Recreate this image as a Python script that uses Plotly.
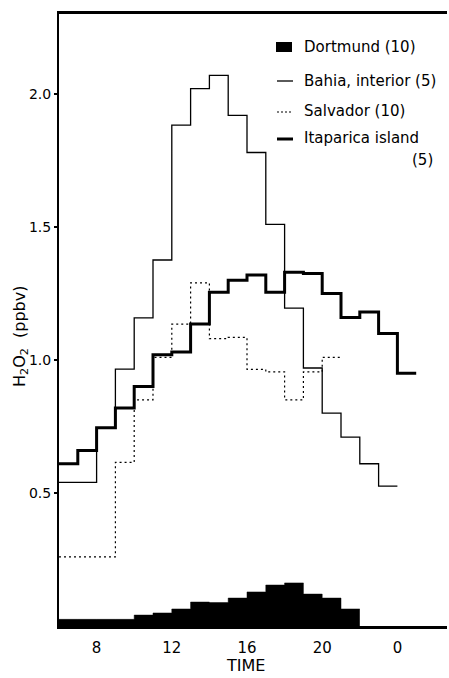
import plotly.graph_objects as go

# Hourly mean H2O2 mixing ratios (ppbv); each value holds from its start hour
# to the next hour. Hours past midnight are written as 24, 25.
dortmund_hours = [6, 7, 8, 9, 10, 11, 12, 13, 14, 15, 16, 17, 18, 19, 20, 21]
dortmund_vals = [0.025, 0.025, 0.025, 0.025, 0.041, 0.049, 0.064, 0.09,
                 0.088, 0.105, 0.128, 0.154, 0.162, 0.12, 0.105, 0.064]

bahia_hours = [6, 7, 8, 9, 10, 11, 12, 13, 14, 15, 16, 17, 18, 19, 20, 21, 22, 23]
bahia_vals = [0.54, 0.54, 0.745, 0.966, 1.158, 1.376, 1.883, 2.02, 2.07,
              1.92, 1.78, 1.51, 1.195, 0.97, 0.80, 0.71, 0.61, 0.526]

salvador_hours = [6, 7, 8, 9, 10, 11, 12, 13, 14, 15, 16, 17, 18, 19, 20]
salvador_vals = [0.26, 0.26, 0.26, 0.615, 0.85, 1.01, 1.135, 1.29, 1.08,
                 1.085, 0.965, 0.955, 0.85, 0.955, 1.01]

itaparica_hours = [6, 7, 8, 9, 10, 11, 12, 13, 14, 15, 16, 17, 18, 19, 20,
                   21, 22, 23, 24]
itaparica_vals = [0.61, 0.66, 0.745, 0.82, 0.90, 1.02, 1.03, 1.135, 1.255,
                  1.30, 1.32, 1.255, 1.33, 1.325, 1.25, 1.16, 1.18, 1.10, 0.95]

x_tick_vals = [8, 12, 16, 20, 24]
x_tick_text = ["8", "12", "16", "20", "0"]
y_tick_vals = [0.5, 1.0, 1.5, 2.0]
y_tick_text = ["0.5", "1.0", "1.5", "2.0"]

legend_labels = ["Dortmund (10)", "Bahia, interior (5)", "Salvador (10)",
                 "Itaparica island"]

FONT = "DejaVu Sans"
W, H = 449, 678
L, R, T, B = 59, 447, 14, 626


def px(x):
    return (x - L) / (R - L)


def py(y):
    return (B - y) / (B - T)


def step(hours, vals):
    # close the last hourly interval
    return hours + [hours[-1] + 1], vals + [vals[-1]]


fig = go.Figure()

dx, dy = step(dortmund_hours, dortmund_vals)
fig.add_trace(go.Scatter(x=dx, y=dy, mode="lines", line_shape="hv",
                         line=dict(color="black", width=0.5),
                         fill="tozeroy", fillcolor="black",
                         name=legend_labels[0]))

bx, by = step(bahia_hours, bahia_vals)
fig.add_trace(go.Scatter(x=bx, y=by, mode="lines", line_shape="hv",
                         line=dict(color="black", width=1.3),
                         name=legend_labels[1]))

sx, sy = step(salvador_hours, salvador_vals)
fig.add_trace(go.Scatter(x=sx, y=sy, mode="lines", line_shape="hv",
                         line=dict(color="black", width=1.2, dash="2px,3px"),
                         name=legend_labels[2]))

ix, iy = step(itaparica_hours, itaparica_vals)
fig.add_trace(go.Scatter(x=ix, y=iy, mode="lines", line_shape="hv",
                         line=dict(color="black", width=3),
                         name=legend_labels[3]))

# Hand-placed key in the upper right corner
shapes = [
    dict(type="rect", xref="paper", yref="paper",
         x0=px(276), x1=px(292), y0=py(52), y1=py(42),
         fillcolor="black", line=dict(width=0)),
    dict(type="line", xref="paper", yref="paper",
         x0=px(277), x1=px(293), y0=py(81), y1=py(81),
         line=dict(color="black", width=1.3)),
    dict(type="line", xref="paper", yref="paper",
         x0=px(277), x1=px(293), y0=py(112), y1=py(112),
         line=dict(color="black", width=1.2, dash="2px,2px")),
    dict(type="line", xref="paper", yref="paper",
         x0=px(277), x1=px(293), y0=py(139), y1=py(139),
         line=dict(color="black", width=3)),
]

annotations = []
for label, yc in zip(legend_labels, [47, 81, 111, 138]):
    annotations.append(dict(text=label, xref="paper", yref="paper",
                            x=px(302), y=py(yc), xanchor="left",
                            yanchor="middle", showarrow=False,
                            font=dict(family=FONT, size=15, color="black")))
annotations.append(dict(text="(5)", xref="paper", yref="paper",
                        x=px(435), y=py(160), xanchor="right",
                        yanchor="middle", showarrow=False,
                        font=dict(family=FONT, size=15, color="black")))

# Axis titles
annotations.append(dict(text="TIME", xref="paper", yref="paper",
                        x=px(245), y=py(665), xanchor="center",
                        yanchor="middle", showarrow=False,
                        font=dict(family=FONT, size=16, color="black")))
annotations.append(dict(text="H<sub>2</sub>O<sub>2</sub>  (ppbv)",
                        xref="paper", yref="paper",
                        x=px(20), y=py(337), xanchor="center",
                        yanchor="middle", textangle=-90, showarrow=False,
                        font=dict(family=FONT, size=16, color="black")))

fig.update_layout(
    width=W, height=H, autosize=False,
    margin=dict(l=L, r=W - R, t=T, b=H - B, pad=0),
    paper_bgcolor="white", plot_bgcolor="white",
    showlegend=False,
    font=dict(family=FONT, color="black"),
    shapes=shapes, annotations=annotations,
    xaxis=dict(range=[6, 6 + (R - L) / 18.8], showgrid=False, zeroline=False,
               showline=True, linecolor="black", linewidth=3, mirror=True,
               ticks="", tickvals=x_tick_vals, ticktext=x_tick_text,
               tickfont=dict(family=FONT, size=15, color="black"),
               ticklabelstandoff=6),
    yaxis=dict(range=[0, (B - T) / 266], showgrid=False, zeroline=False,
               showline=True, linecolor="black", linewidth=2,
               ticks="outside", ticklen=3, tickwidth=1.5, tickcolor="black",
               tickvals=y_tick_vals, ticktext=y_tick_text,
               tickfont=dict(family=FONT, size=14, color="black")),
)

fig.write_html("out.html")
